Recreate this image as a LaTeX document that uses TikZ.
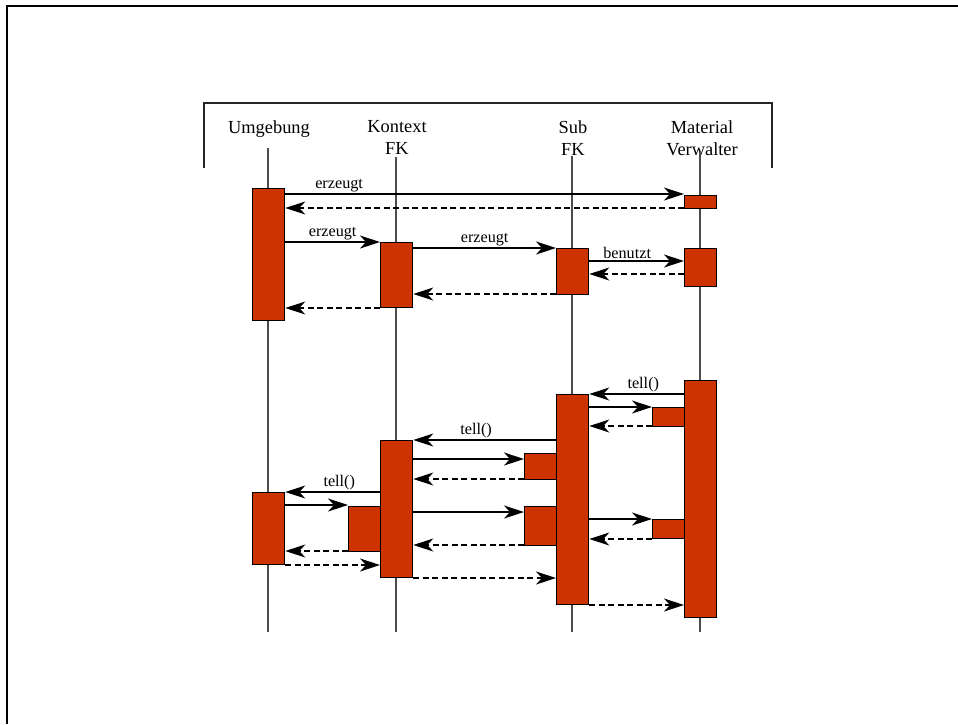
\documentclass[tikz,border=0pt]{standalone}
\usepackage{fontspec}
\setmainfont{Liberation Serif}
\usetikzlibrary{arrows.meta}
\definecolor{actred}{HTML}{CC3300}
\begin{document}
\begin{tikzpicture}[x=1pt,y=-1pt,
  act/.style={draw=black, line width=1.3pt, fill=actred, inner sep=0pt, minimum width=32pt, anchor=north west},
  life/.style={draw=black!70, line width=1.2pt},
  msg/.style={draw=black, line width=1.3pt, -{Stealth[length=20pt,width=13pt,inset=6pt]}},
  ret/.style={msg, dash pattern=on 6pt off 3.5pt},
  lbl/.style={above, inner sep=1.5pt, font=\fontsize{16.2}{18}\selectfont},
  head/.style={align=center, anchor=north, font=\fontsize{18.4}{22}\selectfont, inner sep=0pt},
  frame/.style={draw=black, line width=2pt},
  hbox/.style={draw=black!85, line width=1.3pt}]
\useasboundingbox (0,0) rectangle (958,724);
% outer frame and header bracket
\draw[frame] (6.5,724) -- (6.5,5.5) -- (958,5.5);
\draw[hbox] (204,168) -- (204,103) -- (772,103) -- (772,168);
% headers
\node[head] (hU) at (269,120.5) {Umgebung};
\node[head] (hK) at (397,120.5) {Kontext\\FK};
\node[head] (hS) at (573,120.5) {Sub\\FK};
\node[head] (hM) at (702,120.5) {Material\\Verwalter};
% lifelines
\coordinate (uT) at (268,148); \coordinate (uB) at (268,632);
\coordinate (kT) at (396,157); \coordinate (kB) at (396,632);
\coordinate (sT) at (572,156); \coordinate (sB) at (572,632);
\coordinate (mT) at (700,152); \coordinate (mB) at (700,632);
\draw[life] (uT) -- (uB);
\draw[life] (kT) -- (kB);
\draw[life] (sT) -- (sB);
\draw[life] (mT) -- (mB);
% activation boxes
\node[act, minimum height=132pt] (a1) at (252,188) {};
\node[act, minimum height=72pt] (a2) at (252,492) {};
\node[act, minimum height=65pt] (k1) at (380,242) {};
\node[act, minimum height=137pt] (k2) at (380,440) {};
\node[act, minimum height=45pt] (ks) at (348,506) {};
\node[act, minimum height=46pt] (s1) at (556,248) {};
\node[act, minimum height=210pt] (s2) at (556,394) {};
\node[act, minimum height=26pt] (ss1) at (524,453) {};
\node[act, minimum height=39pt] (ss2) at (524,506) {};
\node[act, minimum height=13pt] (m1) at (684,195) {};
\node[act, minimum height=38pt] (m2) at (684,248) {};
\node[act, minimum height=237pt] (m3) at (684,380) {};
\node[act, minimum height=19pt] (ms1) at (652,407) {};
\node[act, minimum height=19pt] (ms2) at (652,519) {};
% messages
\draw[msg] (a1.east |- 0,194) -- node[lbl,pos=0.135]{erzeugt} (m1.west |- 0,194);
\draw[ret] (m1.west |- 0,208) -- (a1.east |- 0,208);
\draw[msg] (a1.east |- 0,242) -- node[lbl]{erzeugt} (k1.west |- 0,242);
\draw[msg] (k1.east |- 0,248) -- node[lbl]{erzeugt} (s1.west |- 0,248);
\draw[msg] (s1.east |- 0,261) -- node[lbl,pos=0.4]{benutzt} (m2.west |- 0,261);
\draw[ret] (m2.west |- 0,274) -- (s1.east |- 0,274);
\draw[ret] (s1.west |- 0,294) -- (k1.east |- 0,294);
\draw[ret] (k1.west |- 0,308) -- (a1.east |- 0,308);
\draw[msg] (m3.west |- 0,394) -- node[lbl,pos=0.43]{tell()} (s2.east |- 0,394);
\draw[msg] (s2.east |- 0,407) -- (ms1.west |- 0,407);
\draw[ret] (ms1.west |- 0,426) -- (s2.east |- 0,426);
\draw[msg] (s2.west |- 0,440) -- node[lbl,pos=0.56]{tell()} (k2.east |- 0,440);
\draw[msg] (k2.east |- 0,459) -- (ss1.west |- 0,459);
\draw[ret] (ss1.west |- 0,479) -- (k2.east |- 0,479);
\draw[msg] (k2.west |- 0,492) -- node[lbl,pos=0.43]{tell()} (a2.east |- 0,492);
\draw[msg] (a2.east |- 0,505) -- (ks.west |- 0,505);
\draw[msg] (k2.east |- 0,512) -- (ss2.west |- 0,512);
\draw[msg] (s2.east |- 0,519) -- (ms2.west |- 0,519);
\draw[ret] (ms2.west |- 0,539) -- (s2.east |- 0,539);
\draw[ret] (ss2.west |- 0,545) -- (k2.east |- 0,545);
\draw[ret] (ks.west |- 0,551) -- (a2.east |- 0,551);
\draw[ret] (a2.east |- 0,565) -- (k2.west |- 0,565);
\draw[ret] (k2.east |- 0,578) -- (s2.west |- 0,578);
\draw[ret] (s2.east |- 0,605) -- (m3.west |- 0,605);
\end{tikzpicture}
\end{document}
